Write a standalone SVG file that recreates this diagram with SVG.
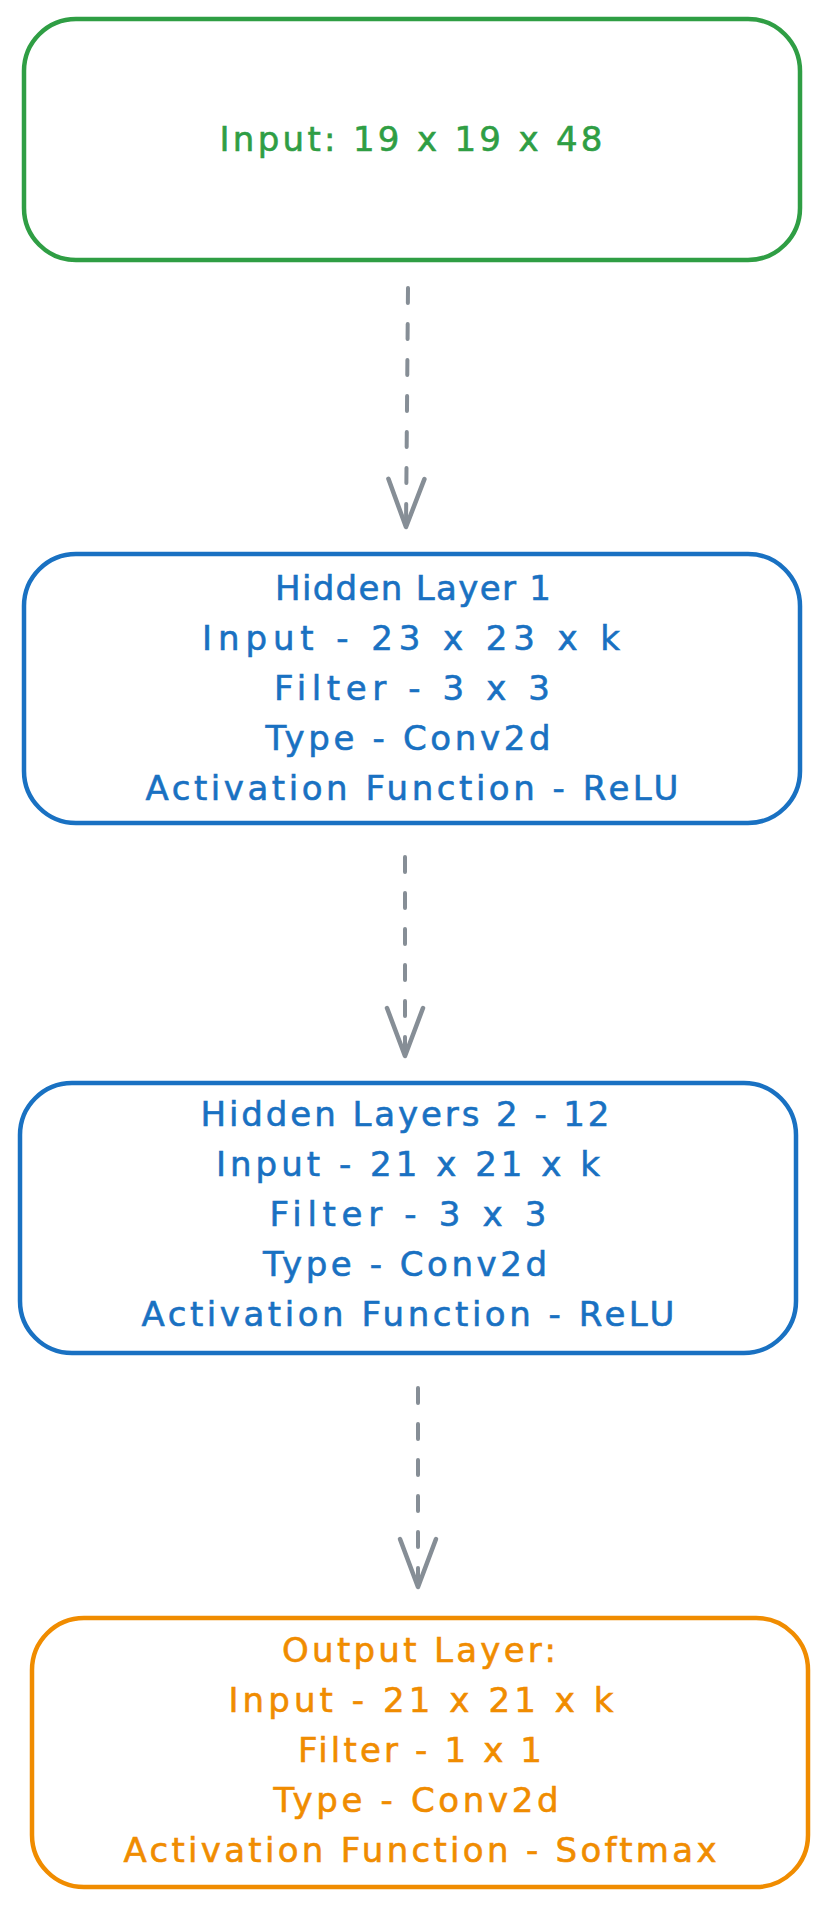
<svg xmlns="http://www.w3.org/2000/svg" width="827" height="1908" viewBox="0 0 827 1908">
<style>
.box{fill:#ffffff;stroke-width:4.5;}
.t{font-family:"DejaVu Sans","Liberation Sans",sans-serif;font-size:34px;text-anchor:middle;stroke-width:0.6;}
.green{stroke:#2f9e44;}
.blue{stroke:#1971c2;}
.orange{stroke:#f08c00;}
.tg{fill:#2f9e44;stroke:#2f9e44;}
.tb{fill:#1971c2;stroke:#1971c2;}
.to{fill:#f08c00;stroke:#f08c00;}
.conn{stroke:#868e96;stroke-width:4;fill:none;stroke-linecap:round;stroke-dasharray:15 21;}
</style>
<defs>
<marker id="ah" markerUnits="userSpaceOnUse" markerWidth="60" markerHeight="60" refX="0" refY="0" orient="auto" overflow="visible">
<path d="M-48,-18 L0,0 L-48,18" fill="none" stroke="#868e96" stroke-width="4.5" stroke-linecap="round" stroke-linejoin="round"/>
</marker>
</defs>
<rect width="827" height="1908" fill="#ffffff"/>
<g id="connectors">
<line class="conn" x1="408" y1="288" x2="406" y2="527" marker-end="url(#ah)"/>
<line class="conn" x1="405" y1="857" x2="405" y2="1056" marker-end="url(#ah)"/>
<line class="conn" x1="418" y1="1388" x2="418" y2="1587" marker-end="url(#ah)"/>
</g>
<g id="input">
<rect class="box green" x="24" y="19" width="776" height="241" rx="52"/>
<text class="t tg" x="411" y="151" textLength="383" lengthAdjust="spacing">Input: 19 x 19 x 48</text>
</g>
<g id="hidden1">
<rect class="box blue" x="24" y="554" width="776" height="269" rx="52"/>
<text class="t tb" x="413" y="600" textLength="276" lengthAdjust="spacing">Hidden Layer 1</text>
<text class="t tb" x="411" y="650" textLength="418" lengthAdjust="spacing">Input - 23 x 23 x k</text>
<text class="t tb" x="412" y="700" textLength="276" lengthAdjust="spacing">Filter - 3 x 3</text>
<text class="t tb" x="408" y="750" textLength="285" lengthAdjust="spacing">Type - Conv2d</text>
<text class="t tb" x="412" y="800" textLength="533" lengthAdjust="spacing">Activation Function - ReLU</text>
</g>
<g id="hidden2">
<rect class="box blue" x="20" y="1083" width="776" height="270" rx="52"/>
<text class="t tb" x="405" y="1126" textLength="409" lengthAdjust="spacing">Hidden Layers 2 - 12</text>
<text class="t tb" x="408" y="1176" textLength="384" lengthAdjust="spacing">Input - 21 x 21 x k</text>
<text class="t tb" x="408" y="1226" textLength="277" lengthAdjust="spacing">Filter - 3 x 3</text>
<text class="t tb" x="405" y="1276" textLength="284" lengthAdjust="spacing">Type - Conv2d</text>
<text class="t tb" x="408" y="1326" textLength="533" lengthAdjust="spacing">Activation Function - ReLU</text>
</g>
<g id="output">
<rect class="box orange" x="32" y="1618" width="776" height="269" rx="52"/>
<text class="t to" x="419" y="1662" textLength="274" lengthAdjust="spacing">Output Layer:</text>
<text class="t to" x="421" y="1712" textLength="385" lengthAdjust="spacing">Input - 21 x 21 x k</text>
<text class="t to" x="420" y="1762" textLength="244" lengthAdjust="spacing">Filter - 1 x 1</text>
<text class="t to" x="416" y="1812" textLength="285" lengthAdjust="spacing">Type - Conv2d</text>
<text class="t to" x="420" y="1862" textLength="593" lengthAdjust="spacing">Activation Function - Softmax</text>
</g>
</svg>
